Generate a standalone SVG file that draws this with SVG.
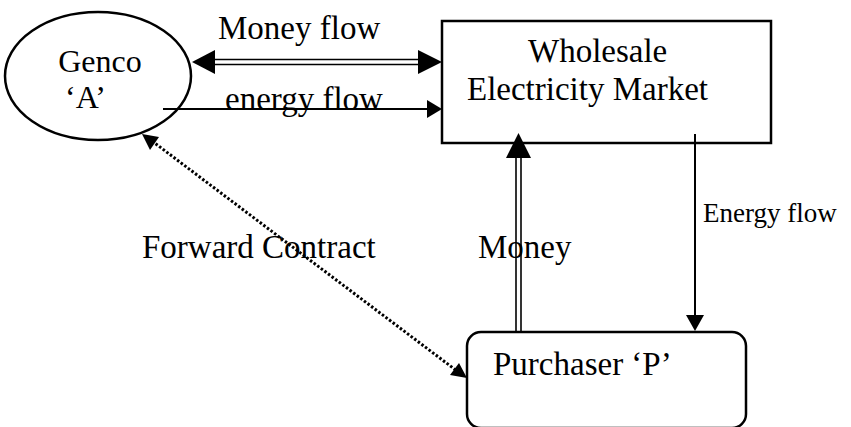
<svg xmlns="http://www.w3.org/2000/svg" width="851" height="427" viewBox="0 0 851 427">
<style>
text{font-family:"Liberation Serif","Times New Roman",serif;font-size:33px;fill:#000}
.g{font-size:32px}
.shape{fill:#fff;stroke:#000;stroke-width:2.5}
.ln{stroke:#000;stroke-width:2;fill:none}
.dbl{stroke:#000;stroke-width:1.6;fill:none}
.dot{stroke:#000;stroke-width:3;stroke-dasharray:2.5 2;fill:none}
.head{fill:#000;stroke:none}
</style>
<rect width="851" height="427" fill="#fff"/>
<g id="genco">
<ellipse class="shape" cx="98" cy="76" rx="93" ry="64"/>
<text class="g" x="100" y="72" text-anchor="middle">Genco</text>
<text class="g" x="65" y="108">‘A’</text>
</g>
<g id="market">
<rect class="shape" x="442" y="21" width="329" height="122"/>
<text x="528" y="62">Wholesale</text>
<text x="467" y="100">Electricity Market</text>
</g>
<g id="purchaser">
<rect class="shape" x="467" y="332" width="279" height="96" rx="14"/>
<text x="493" y="375">Purchaser ‘P’</text>
</g>
<g id="connectors">
<line class="dbl" x1="214" y1="59.5" x2="420" y2="59.5"/>
<line class="dbl" x1="214" y1="64.5" x2="420" y2="64.5"/>
<polygon class="head" points="192,62 215,50 215,74"/>
<polygon class="head" points="442,62 418,50 418,74"/>
<line class="ln" x1="163" y1="109" x2="430" y2="109"/>
<polygon class="head" points="442,109 427,100 427,118"/>
<line class="dbl" x1="516" y1="156" x2="516" y2="332"/>
<line class="dbl" x1="521" y1="156" x2="521" y2="332"/>
<polygon class="head" points="518.5,133 506,158 531,158"/>
<line class="ln" x1="695" y1="134" x2="695" y2="318"/>
<polygon class="head" points="695,331 686,315 704,315"/>
<line class="dot" x1="152" y1="141" x2="457" y2="371"/>
<polygon class="head" points="142,134 159,137 150,150"/>
<polygon class="head" points="467,378 450,375 459,363"/>
<text x="142" y="258">Forward Contract</text>
<text x="478" y="258">Money</text>
<text x="703" y="222" style="font-size:27px">Energy flow</text>
<text x="225" y="110">energy flow</text>
<text x="218" y="39">Money flow</text>
</g>
</svg>
